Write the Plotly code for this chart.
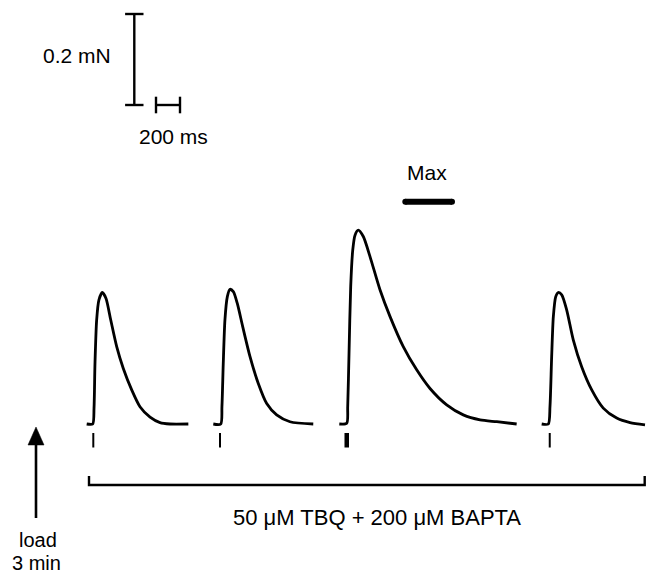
import plotly.graph_objects as go

# ---- data: each sweep = time from sweep start (ms), force above baseline (mN)
t1 = [0, 50, 61, 69, 83, 102, 130, 161, 200, 250, 305, 375, 444, 528, 611, 694, 847]
f1 = [0, 0, 0.035, 0.133, 0.229, 0.273, 0.289, 0.276, 0.229, 0.170, 0.122, 0.075, 0.038, 0.015, 0.003, 0, 0]

t2 = [0, 62, 72, 83, 97, 117, 139, 167, 200, 245, 306, 375, 445, 528, 639, 833]
f2 = [0, 0, 0.038, 0.133, 0.229, 0.280, 0.296, 0.291, 0.265, 0.214, 0.148, 0.089, 0.045, 0.020, 0.005, 0]

t3 = [0, 62, 70, 81, 95, 112, 131, 158, 200, 256, 339, 423, 533, 645, 756, 895, 1033, 1173, 1312, 1478]
f3 = [0, 0.0015, 0.038, 0.155, 0.302, 0.382, 0.415, 0.426, 0.412, 0.368, 0.295, 0.236, 0.170, 0.119, 0.078, 0.042, 0.020, 0.009, 0.005, 0]

t4 = [0, 55, 69, 83, 97, 117, 138, 167, 208, 263, 333, 417, 513, 625, 736, 861]
f4 = [0, 0, 0.038, 0.148, 0.236, 0.280, 0.289, 0.284, 0.251, 0.185, 0.126, 0.075, 0.035, 0.013, 0.003, -0.002]

sweep_times = [t1, t2, t3, t4]
sweep_forces = [f1, f2, f3, f4]
stim_times = [55, 56, 62, 67]          # ms after sweep start
stim_is_max = [False, False, True, False]

scale_force = 0.2    # mN
scale_time = 200     # ms
label_force = "0.2 mN"
label_time = "200 ms"
label_max = "Max"
label_drug = "50 \u03bcM TBQ + 200 \u03bcM BAPTA"
label_load = ["load", "3 min"]

# ---- layout (display positions)
W, H = 647, 576
PX_PER_MS = 0.12
PX_PER_MN = 455.0
BASE_PX = 424.0
X_RANGE = [0, W / PX_PER_MS]
Y_RANGE = [-(H - BASE_PX) / PX_PER_MN, BASE_PX / PX_PER_MN]

def mx(px):
    return px / PX_PER_MS

def my(py):
    return (BASE_PX - py) / PX_PER_MN

sweep_offsets = [mx(86.7), mx(213.3), mx(339.3), mx(541.7)]

INK = "#000000"
FONT = "Liberation Sans, Arial, Helvetica, sans-serif"
fig = go.Figure()

for t, f, off in zip(sweep_times, sweep_forces, sweep_offsets):
    fig.add_trace(go.Scatter(
        x=[off + v for v in t], y=f, mode="lines",
        line=dict(color=INK, width=2.8, shape="spline", smoothing=0.7),
        hoverinfo="skip", showlegend=False))

# stimulus marks
for off, st, big in zip(sweep_offsets, stim_times, stim_is_max):
    fig.add_trace(go.Scatter(
        x=[off + st, off + st], y=[my(433), my(447.5)], mode="lines",
        line=dict(color=INK, width=4.5 if big else 2.0),
        hoverinfo="skip", showlegend=False))

# scale bars
sb_x = mx(134.3)
sb_y0 = my(105)
cap_t = mx(9.2)
cap_f = 8.3 / PX_PER_MN
h0 = mx(156)
fig.add_trace(go.Scatter(
    x=[sb_x, sb_x, None, sb_x - cap_t, sb_x + cap_t, None, sb_x - cap_t, sb_x + cap_t],
    y=[sb_y0, sb_y0 + scale_force, None, sb_y0 + scale_force, sb_y0 + scale_force, None, sb_y0, sb_y0],
    mode="lines", line=dict(color=INK, width=2.4), hoverinfo="skip", showlegend=False))
fig.add_trace(go.Scatter(
    x=[h0, h0 + scale_time, None, h0, h0, None, h0 + scale_time, h0 + scale_time],
    y=[sb_y0, sb_y0, None, sb_y0 - cap_f, sb_y0 + cap_f, None, sb_y0 - cap_f, sb_y0 + cap_f],
    mode="lines", line=dict(color=INK, width=2.4), hoverinfo="skip", showlegend=False))

# Max bar
fig.add_trace(go.Scatter(
    x=[mx(405.3), mx(452)], y=[my(201.7), my(201.7)], mode="lines+markers",
    line=dict(color=INK, width=6), marker=dict(color=INK, size=6),
    hoverinfo="skip", showlegend=False))

# bracket
bx0, bx1, by, byt = mx(89), mx(644.7), my(485), my(476)
fig.add_trace(go.Scatter(
    x=[bx0, bx0, bx1, bx1], y=[byt, by, by, byt], mode="lines",
    line=dict(color=INK, width=2.4), hoverinfo="skip", showlegend=False))

# load arrow
ax = mx(36)
fig.add_trace(go.Scatter(
    x=[ax, ax], y=[my(518), my(444)], mode="lines",
    line=dict(color=INK, width=2.6), hoverinfo="skip", showlegend=False))
fig.add_shape(type="path",
              path=f"M {mx(28)} {my(445)} L {ax} {my(427)} L {mx(44)} {my(445)} Z",
              fillcolor=INK, line=dict(color=INK, width=0.5))

def label(text, x, y, size=21, xanchor="center"):
    fig.add_annotation(x=x, y=y, text=text, showarrow=False, xanchor=xanchor,
                       yanchor="middle", font=dict(family=FONT, size=size, color=INK))

label(label_force, mx(112.5), my(55), xanchor="right")
label(label_time, mx(173.3), my(136))
label(label_max, mx(427.3), my(172))
label(label_drug, mx(377), my(517), size=22)
label(label_load[0], mx(38), my(540), size=20)
label(label_load[1], mx(36), my(562.5), size=20)

fig.update_layout(
    width=W, height=H, autosize=False,
    margin=dict(l=0, r=0, t=0, b=0),
    paper_bgcolor="white", plot_bgcolor="white",
    xaxis=dict(range=X_RANGE, visible=False, fixedrange=True),
    yaxis=dict(range=Y_RANGE, visible=False, fixedrange=True),
)
fig.write_html("out.html")
